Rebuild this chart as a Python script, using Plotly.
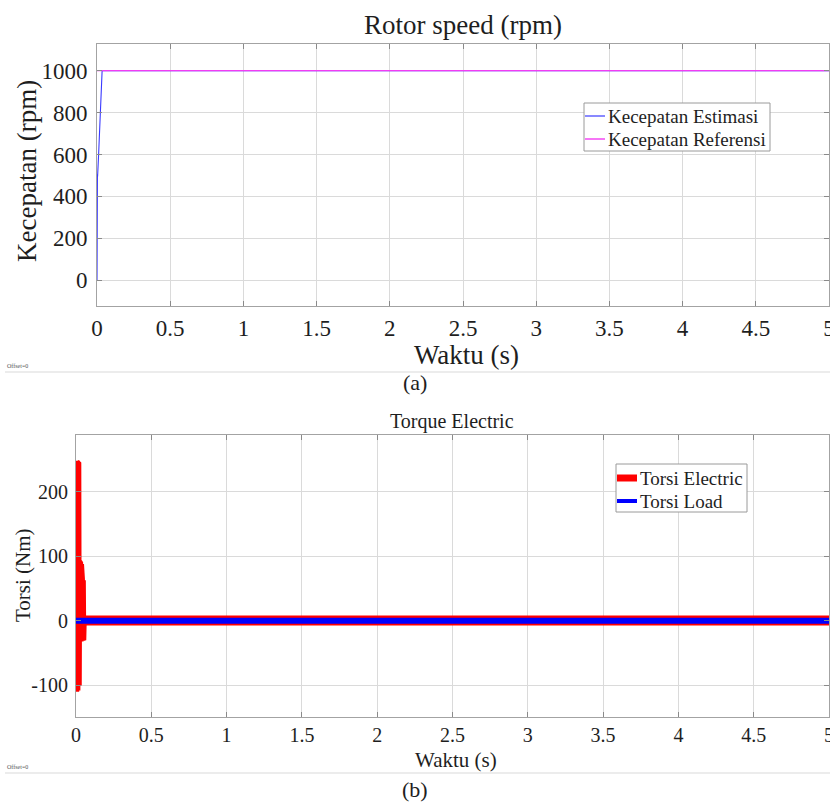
import plotly.graph_objects as go

# ---------------- data ----------------
# Rotor speed (rpm)
t_est = [0.0, 0.001, 0.002, 0.0025, 0.003, 0.0035, 0.004, 0.011, 0.024, 0.035, 5.0]
speed_est = [0, 380, 500, 400, 505, 410, 495, 600, 800, 1000, 1000]
t_ref = [0.0, 5.0]
speed_ref = [1000, 1000]

# Electric torque (Nm): start-up transient followed by the steady state
t_te = [0.000, 0.002, 0.004, 0.006, 0.008, 0.010, 0.012, 0.014, 0.016, 0.018,
        0.020, 0.022, 0.025, 0.028, 0.031, 0.034, 0.037, 0.040, 0.043, 0.046,
        0.049, 0.052, 0.055, 0.058, 5.000]
torque_e = [0, 248, -110, 248, -110, 247, -109, 246, -108, 245,
            -106, 244, -100, 92, -33, 90, -32, 88, -31, 65,
            -31, 63, -30, 0.5, 0.5]
N_TRANSIENT = 24  # samples belonging to the start-up transient

t_tl = [0.0, 5.0]
torque_load = [0, 0]

x_ticks = [0, 0.5, 1, 1.5, 2, 2.5, 3, 3.5, 4, 4.5, 5]
speed_ticks = [0, 200, 400, 600, 800, 1000]
torque_ticks = [-100, 0, 100, 200]
torque_tick_text = ["-100", "0", "100", "200"]

SPEED_NAMES = ["Kecepatan Estimasi", "Kecepatan Referensi"]
TORQUE_NAMES = ["Torsi Electric", "Torsi Load"]

# ---------------- layout helpers ----------------
W, H = 830, 803
SERIF = "Liberation Serif"
INK = "#1e1e1e"
GRID = "#dadada"
LINE = "#a3a3a3"
C_EST, C_REF = "#3a3aff", "#f23cf2"
C_TE, C_TL = "#ff0000", "#0000ff"


def px(x):
    return x / W


def py(y):
    return 1 - y / H


fig = go.Figure()

# top panel
fig.add_trace(go.Scatter(x=t_est, y=speed_est, mode="lines", name=SPEED_NAMES[0],
                         line=dict(color=C_EST, width=1.1), xaxis="x", yaxis="y"))
fig.add_trace(go.Scatter(x=t_ref, y=speed_ref, mode="lines", name=SPEED_NAMES[1],
                         line=dict(color=C_REF, width=1.4), xaxis="x", yaxis="y"))

# bottom panel (electric torque drawn as transient + steady part of one series)
fig.add_trace(go.Scatter(x=t_te[:N_TRANSIENT], y=torque_e[:N_TRANSIENT], mode="lines",
                         name=TORQUE_NAMES[0], legendgroup="te",
                         line=dict(color=C_TE, width=4), xaxis="x2", yaxis="y2"))
fig.add_trace(go.Scatter(x=t_te[N_TRANSIENT - 1:], y=torque_e[N_TRANSIENT - 1:], mode="lines",
                         name=TORQUE_NAMES[0], legendgroup="te",
                         line=dict(color=C_TE, width=10), xaxis="x2", yaxis="y2"))
fig.add_trace(go.Scatter(x=t_tl, y=torque_load, mode="lines", name=TORQUE_NAMES[1],
                         line=dict(color=C_TL, width=6), xaxis="x2", yaxis="y2"))

axis_common = dict(showgrid=True, gridcolor=GRID, gridwidth=1, zeroline=False,
                   showline=True, linecolor=LINE, linewidth=1, mirror="ticks",
                   ticks="inside", ticklen=5, tickcolor="#8a8a8a", automargin=False,
                   ticklabeloverflow="allow")

fig.update_layout(
    width=W, height=H, autosize=False,
    margin=dict(l=0, r=0, t=0, b=0, pad=0),
    paper_bgcolor="white", plot_bgcolor="white",
    font=dict(family=SERIF, color=INK),
    showlegend=False,
    xaxis=dict(domain=[px(97), px(829)], range=[0, 5], tickvals=x_ticks,
               tickfont=dict(size=23, family=SERIF, color=INK),
               ticklabelstandoff=1, anchor="y", **axis_common),
    yaxis=dict(domain=[py(306), py(44)], range=[-123, 1127], tickvals=speed_ticks,
               tickfont=dict(size=23, family=SERIF, color=INK),
               ticklabelstandoff=4, anchor="x", **axis_common),
    xaxis2=dict(domain=[px(76), px(829)], range=[0, 5], tickvals=x_ticks,
                tickfont=dict(size=20, family=SERIF, color=INK),
                ticklabelstandoff=0, anchor="y2", **axis_common),
    yaxis2=dict(domain=[py(717), py(435)], range=[-149, 288], tickvals=torque_ticks,
                ticktext=torque_tick_text,
                tickfont=dict(size=20, family=SERIF, color=INK),
                ticklabelstandoff=3, anchor="x2", **axis_common),
)


def label(text, x, y, size, angle=0, color=INK, xanchor="center"):
    fig.add_annotation(text=text, x=px(x), y=py(y), xref="paper", yref="paper",
                       xanchor=xanchor, yanchor="middle", textangle=angle,
                       showarrow=False, font=dict(family=SERIF, size=size, color=color))


def legend_box(x0, y0, x1, y1, rows):
    """Boxed legend: rows of (name, colour, sample thickness, row centre y)."""
    fig.add_shape(type="rect", xref="paper", yref="paper",
                  x0=px(x0), x1=px(x1), y0=py(y1), y1=py(y0),
                  fillcolor="white", line=dict(color="#9a9a9a", width=1))
    for name, color, lw, yc in rows:
        fig.add_shape(type="line", xref="paper", yref="paper",
                      x0=px(x0 + 1), x1=px(x0 + 21), y0=py(yc), y1=py(yc),
                      line=dict(color=color, width=lw))
        label(name, x0 + 22, yc, 19, xanchor="left")


# top panel texts
label("Rotor speed (rpm)", 463, 25, 27)
label("Kecepatan (rpm)", 27, 171, 27, angle=-90)
label("Waktu (s)", 466, 355, 27)
label("Offset=0", 5, 366, 6, color="#555555", xanchor="left")
label("(a)", 415, 382, 22)
legend_box(584, 103, 770, 151, [(SPEED_NAMES[0], C_EST, 1.2, 116),
                                (SPEED_NAMES[1], C_REF, 1.4, 139)])

# bottom panel texts
label("Torque Electric", 452, 421, 20)
label("Torsi (Nm)", 23, 575, 21, angle=-90)
label("Waktu (s)", 456, 760, 21)
label("Offset=0", 5, 767, 6, color="#555555", xanchor="left")
label("(b)", 415, 789, 22)
legend_box(616, 464, 747, 512, [(TORQUE_NAMES[0], C_TE, 7, 478),
                                (TORQUE_NAMES[1], C_TL, 4, 501)])

# faint separators under each panel
for yy in (372, 773):
    fig.add_shape(type="line", xref="paper", yref="paper",
                  x0=px(5), x1=1, y0=py(yy), y1=py(yy),
                  line=dict(color="#ececec", width=2))

fig.write_html("out.html")
